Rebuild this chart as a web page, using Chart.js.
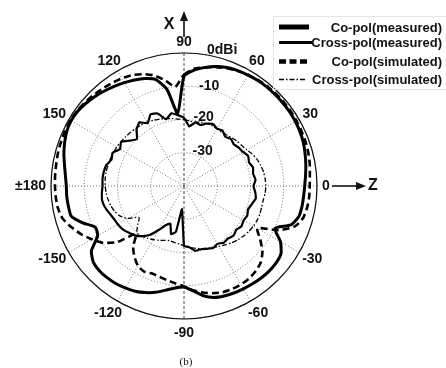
<!DOCTYPE html>
<html>
<head>
<meta charset="utf-8">
<script src="https://cdn.jsdelivr.net/npm/chart.js@4.4.0/dist/chart.umd.min.js"></script>
<style>
  html, body { margin: 0; padding: 0; background: #fff; }
  canvas { display: block; }
</style>
</head>
<body>
<canvas id="pattern" width="446" height="368"></canvas>
<script>
// Pattern angles (degrees), clockwise from the top (+X direction)
const angles = [90, 85, 80, 75, 70, 65, 60, 55, 50, 45, 40, 35, 30, 25, 20, 15, 10, 5,
  0, -5, -10, -15, -20, -25, -30, -35, -40, -45, -50, -55, -60, -65, -70, -75, -80, -85,
  -90, -95, -100, -105, -110, -115, -120, -125, -130, -135, -140, -145, -150, -155, -160, -165, -170, -175,
  180, 175, 170, 165, 160, 155, 150, 145, 140, 135, 130, 125, 120, 115, 110, 105, 100, 95];

// Angle tick labels (every 30 degrees)
const angleTickAngles = [90, 60, 30, 0, -30, -60, -90, -120, -150, 180, 150, 120];
const angleTickLabels = ['90', '60', '30', '0', '-30', '-60', '-90', '-120', '-150', '\u00B1180', '150', '120'];

// Radial ticks (dBi)
const radialTicks = [0, -10, -20, -30];
const radialTickLabels = ['0dBi', '-10', '-20', '-30'];

// Gain values in dBi, one per angle above
const coPolMeasured = [
  -7, -5, -3.8, -2.8, -2.1, -1.7, -1.5, -1.3, -1.2, -1.2, -1.2, -1.2, -1.3, -1.5, -1.8, -2.3, -2.8, -3.3,
  -3.7, -3.9, -4.0, -4.3, -5.8, -9.8, -6.5, -4.4, -3.9, -3.8, -3.9, -4.1, -4.3, -4.5, -4.8, -5.3, -6.5, -8.3,
  -9.6, -9.2, -8.2, -6.9, -5.9, -5.1, -4.6, -4.2, -4.0, -4.0, -4.4, -6.0, -10.0, -10.6, -7.6, -4.9, -4.7, -4.6,
  -4.6, -4.2, -3.5, -2.6, -1.8, -1.1, -0.8, -0.9, -1.4, -2.0, -2.7, -3.4, -4.1, -4.8, -5.6, -6.8, -10.5, -18];

const crossPolMeasured = [
  -19.5, -22, -20.6, -21, -20, -19.4, -20.1, -19.7, -20.7, -20, -20.5, -19.9, -19.5, -18.7, -19.2, -18.5, -18.9, -18.4,
  -19.1, -18.5, -18.1, -18.9, -19.5, -19, -19.3, -18.9, -19.5, -18.9, -19.4, -19.2, -19.9, -19.4, -19.9, -20.3, -20.2, -21.5,
  -22, -33, -26, -25, -28, -27, -24.7, -22, -20.3, -19, -18.2, -17.4, -17, -16.7, -16.1, -15.4, -15, -15.2,
  -15.5, -15.4, -15.5, -15.8, -16.8, -16.3, -17.8, -16.9, -18.8, -20, -17.8, -16.6, -18.2, -16.2, -16.8, -19.2, -17.8, -18.6];

const coPolSimulated = [
  -6.5, -4.6, -3.8, -3.0, -2.3, -1.8, -1.4, -1.1, -0.9, -0.8, -0.8, -0.8, -0.9, -1.0, -1.1, -1.3, -1.6, -2.0,
  -2.2, -2.2, -2.4, -2.9, -4.5, -8.5, -14.5, -12.0, -9.2, -7.4, -6.5, -6.0, -5.8, -5.8, -6.0, -6.6, -7.5, -8.5,
  -9.8, -10.6, -11.2, -11.7, -12.0, -11.6, -12.3, -14.0, -16.2, -19.5, -13.8, -10.2, -8.0, -5.8, -3.9, -2.2, -1.5, -1.3,
  -1.2, -1.1, -1.0, -0.8, -0.7, -0.6, -0.6, -0.7, -1.0, -1.4, -1.8, -2.2, -2.6, -3.2, -4.2, -5.6, -7.8, -10.0];

const crossPolSimulated = [
  -20, -20.4, -20.4, -20.2, -20, -20, -20.1, -20.2, -20, -19.6, -19.1, -18.8, -18.2, -17.3, -16.6, -16.1, -15.7, -15.5,
  -15.4, -15.5, -15.8, -15.8, -15.7, -15.7, -15.9, -16.2, -16.6, -17.1, -17.7, -18.4, -19, -19.5, -20, -20.5, -21, -21.5,
  -22, -22.5, -22.8, -23, -22.6, -22, -21.4, -20.8, -20.3, -20, -21.8, -23.5, -20.5, -18.7, -17.8, -17.2, -16.8, -16.5,
  -16.3, -16.2, -16.2, -16.3, -16.4, -16.5, -16.6, -16.8, -17, -17.2, -17.4, -17.6, -17.8, -18.2, -18.6, -19, -19.4, -19.8];

const seriesNames = ['Co-pol(measured)', 'Cross-pol(measured)', 'Co-pol(simulated)', 'Cross-pol(simulated)'];

const FONT = '"Liberation Sans", Arial, Helvetica, sans-serif';

// Text, outer ring, arrows and legend drawn around the radial scale
const decorations = {
  id: 'decorations',
  beforeDatasetsDraw(chart) {
    const s = chart.scales.r;
    const ctx = chart.ctx;
    ctx.save();
    ctx.strokeStyle = '#111';
    ctx.lineWidth = 1.2;
    ctx.setLineDash([]);
    ctx.beginPath();
    ctx.arc(s.xCenter, s.yCenter, s.getDistanceFromCenterForValue(0), 0, Math.PI * 2);
    ctx.stroke();
    ctx.restore();
  },
  afterDraw(chart) {
    const s = chart.scales.r;
    const ctx = chart.ctx;
    const cx = s.xCenter, cy = s.yCenter, R = s.drawingArea;
    ctx.save();
    ctx.fillStyle = '#111';
    ctx.textBaseline = 'middle';
    ctx.textAlign = 'center';

    // angle labels
    ctx.font = 'bold 14px ' + FONT;
    angleTickAngles.forEach((a, k) => {
      const idx = angles.indexOf(a);
      const p = s.getPointPosition(idx, R + 5);
      const w = ctx.measureText(angleTickLabels[k]).width;
      const x = p.x + Math.cos(p.angle) * w / 2;
      const y = p.y + Math.sin(p.angle) * (Math.sin(p.angle) > 0 ? 9 : 6);
      ctx.fillText(angleTickLabels[k], x, y);
    });

    // radial labels, stepped to the right of the vertical axis
    const xShift = [23, 15, 9.5, 8.5];
    const yShift = [-3, 0, -2.5, -2];
    ctx.textAlign = 'left';
    radialTicks.forEach((v, k) => {
      const d = s.getDistanceFromCenterForValue(v);
      ctx.fillText(radialTickLabels[k], cx + xShift[k], cy - d + yShift[k]);
    });

    // axis arrows
    ctx.strokeStyle = '#111';
    ctx.lineWidth = 1.6;
    ctx.beginPath();
    ctx.moveTo(cx, cy - R - 16);
    ctx.lineTo(cx, cy - R - 36);
    ctx.stroke();
    ctx.beginPath();
    ctx.moveTo(cx, cy - R - 42);
    ctx.lineTo(cx - 4, cy - R - 32);
    ctx.lineTo(cx + 4, cy - R - 32);
    ctx.closePath();
    ctx.fill();

    ctx.beginPath();
    ctx.moveTo(cx + R + 15, cy);
    ctx.lineTo(cx + R + 42, cy);
    ctx.stroke();
    ctx.beginPath();
    ctx.moveTo(cx + R + 49, cy);
    ctx.lineTo(cx + R + 39, cy - 4);
    ctx.lineTo(cx + R + 39, cy + 4);
    ctx.closePath();
    ctx.fill();

    ctx.font = 'bold 16px ' + FONT;
    ctx.textAlign = 'center';
    ctx.fillText('X', cx - 15, cy - R - 28);
    ctx.fillText('Z', cx + R + 56, cy);

    // caption
    ctx.font = '11px "Liberation Serif", "Times New Roman", serif';
    ctx.fillText('(b)', cx + 2, chart.height - 6);

    // legend
    ctx.strokeStyle = '#e4e4e4';
    ctx.lineWidth = 1;
    ctx.strokeRect(273.5, 16.5, 180, 73);
    const rows = [28, 43.5, 62.5, 80.5];
    const sample = [
      {w: 5, dash: [], x2: 309},
      {w: 3.2, dash: [], x2: 312},
      {w: 4.5, dash: [7, 3.5], x2: 309},
      {w: 1.6, dash: [5, 2, 1.5, 2], x2: 306}
    ];
    ctx.font = 'bold 13px ' + FONT;
    ctx.textAlign = 'right';
    seriesNames.forEach((name, k) => {
      ctx.save();
      ctx.strokeStyle = '#000';
      ctx.lineWidth = sample[k].w;
      ctx.setLineDash(sample[k].dash);
      ctx.beginPath();
      ctx.moveTo(279, rows[k] - 1);
      ctx.lineTo(sample[k].x2, rows[k] - 1);
      ctx.stroke();
      ctx.restore();
      ctx.fillText(name, 442, rows[k]);
    });
    ctx.restore();
  }
};

const gridGray = '#707070';

new Chart(document.getElementById('pattern'), {
  type: 'radar',
  data: {
    labels: angles.map(String),
    datasets: [
      { label: seriesNames[0], data: coPolMeasured, borderColor: '#000', borderWidth: 3, borderDash: [], tension: 0.2 },
      { label: seriesNames[1], data: crossPolMeasured, borderColor: '#000', borderWidth: 2.2, borderDash: [], tension: 0.1 },
      { label: seriesNames[2], data: coPolSimulated, borderColor: '#000', borderWidth: 2.6, borderDash: [7, 4], tension: 0.2 },
      { label: seriesNames[3], data: crossPolSimulated, borderColor: '#000', borderWidth: 1.3, borderDash: [5, 2, 1.5, 2], tension: 0.2 }
    ]
  },
  options: {
    responsive: false,
    animation: false,
    devicePixelRatio: 1,
    layout: { padding: { left: 51, right: 129, top: 53, bottom: 49 } },
    elements: {
      point: { radius: 0, hoverRadius: 0 },
      line: { fill: false, borderJoinStyle: 'round' }
    },
    plugins: { legend: { display: false }, tooltip: { enabled: false } },
    scales: {
      r: {
        min: -40,
        max: 0,
        startAngle: 0,
        ticks: { display: false, stepSize: 10 },
        pointLabels: { display: false },
        grid: { circular: true, color: gridGray, lineWidth: 1 },
        border: { dash: [1, 2] },
        angleLines: {
          display: true,
          color: (c) => (c.index % 6 === 0 ? (c.index % 36 === 0 ? '#444' : gridGray) : 'rgba(0,0,0,0)'),
          lineWidth: (c) => (c.index % 6 === 0 ? 1 : 0),
          borderDash: (c) => (c.index % 36 === 0 ? [3, 2] : [1, 2])
        }
      }
    }
  },
  plugins: [decorations]
});
</script>
</body>
</html>
